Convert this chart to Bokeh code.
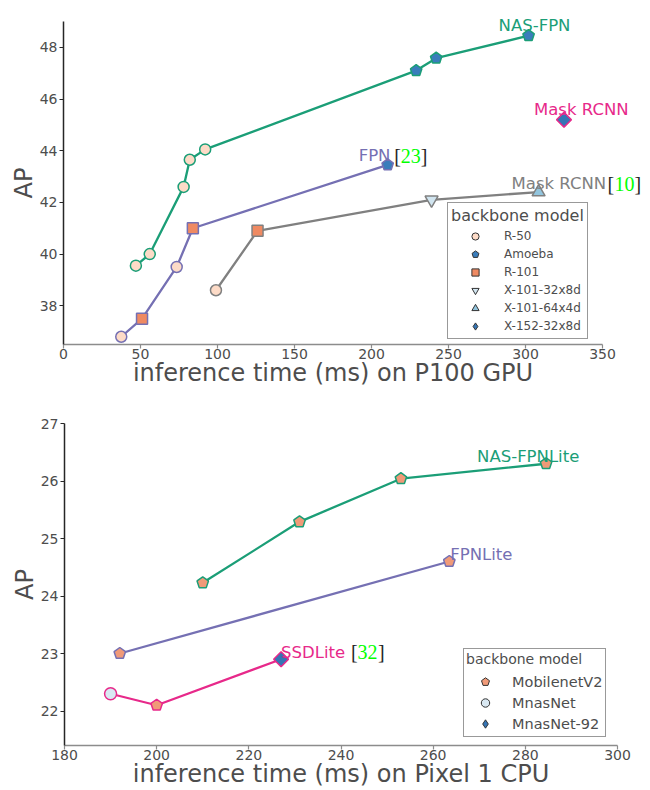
from bokeh.plotting import figure
from bokeh.models import Range1d, Legend, LegendItem, FixedTicker
from bokeh.core.properties import value
from bokeh.embed import file_html
from bokeh.resources import INLINE

# ---------------- data: top panel (P100 GPU) ----------------
top_xticks = [0, 50, 100, 150, 200, 250, 300, 350]
top_yticks = [38, 40, 42, 44, 46, 48]

nasfpn_t = [47, 56, 78, 82, 92, 229, 242, 302]
nasfpn_ap = [39.55, 40.0, 42.6, 43.65, 44.05, 47.1, 47.58, 48.45]
nasfpn_bb = ["R-50", "R-50", "R-50", "R-50", "R-50", "Amoeba", "Amoeba", "Amoeba"]

fpn_t = [37.5, 51, 73.5, 84, 210.5]
fpn_ap = [36.8, 37.5, 39.5, 41.0, 43.45]
fpn_bb = ["R-50", "R-101", "R-50", "R-101", "Amoeba"]

mrcnn10_t = [99, 126, 239, 308.5]
mrcnn10_ap = [38.6, 40.9, 42.1, 42.4]
mrcnn10_bb = ["R-50", "R-101", "X-101-32x8d", "X-101-64x4d"]

mrcnn_t = [325]
mrcnn_ap = [45.2]
mrcnn_bb = ["X-152-32x8d"]

top_backbones = ["R-50", "Amoeba", "R-101", "X-101-32x8d", "X-101-64x4d", "X-152-32x8d"]

# ---------------- data: bottom panel (Pixel 1 CPU) ----------------
bot_xticks = [180, 200, 220, 240, 260, 280, 300]
bot_yticks = [22, 23, 24, 25, 26, 27]

nasfpnlite_t = [210, 231, 253, 284.5]
nasfpnlite_ap = [24.23, 25.29, 26.04, 26.3]
nasfpnlite_bb = ["MobilenetV2", "MobilenetV2", "MobilenetV2", "MobilenetV2"]

fpnlite_t = [192, 263.5]
fpnlite_ap = [23.0, 24.6]
fpnlite_bb = ["MobilenetV2", "MobilenetV2"]

ssdlite_t = [190, 200, 227]
ssdlite_ap = [22.3, 22.1, 22.9]
ssdlite_bb = ["MnasNet", "MobilenetV2", "MnasNet-92"]

bot_backbones = ["MobilenetV2", "MnasNet", "MnasNet-92"]

# ---------------- styles ----------------
GREEN = "#1b9e77"
PURPLE = "#7570b3"
PINK = "#e7298a"
GRAY = "#808080"
TXT = "#4d4d4d"
SANS = "DejaVu Sans"
SERIF = "Liberation Serif"
NAN = float("nan")

STYLE = {
    "R-50": ("circle", "#fddbc7", 11),
    "Amoeba": ("pentagon", "#3a7dbb", 12),
    "R-101": ("square", "#ef8a62", 11),
    "X-101-32x8d": ("inverted_triangle", "#d1e5f0", 13),
    "X-101-64x4d": ("triangle", "#92c5de", 13),
    "X-152-32x8d": ("diamond", "#3575b5", 10.5),
    "MobilenetV2": ("pentagon", "#f09a78", 12),
    "MnasNet": ("circle", "#d9e8f2", 12),
    "MnasNet-92": ("diamond", "#3575b5", 10.5),
}


def mark(p, xs, ys, name, edge, lw=1.5, legend=False):
    marker, fill, size = STYLE[name]
    if marker == "pentagon":
        try:
            return p.ngon(x=xs, y=ys, radius=size / 2, radius_units="screen", n=5,
                          angle=0, fill_color=fill, line_color=edge, line_width=lw)
        except Exception:
            marker = "hex"
    angle = 0.0
    if marker == "diamond" and not legend:
        marker, angle = "square", 0.785398
    return p.scatter(x=xs, y=ys, marker=marker, size=size, angle=angle,
                     fill_color=fill, line_color=edge, line_width=lw)


def series(p, t, ap, bb, color):
    p.line(t, ap, line_color=color, line_width=2.3)
    seen = []
    for b in bb:
        if b not in seen:
            seen.append(b)
    for b in seen:
        xs = [x for x, k in zip(t, bb) if k == b]
        ys = [y for y, k in zip(ap, bb) if k == b]
        mark(p, xs, ys, b, color)


def label(p, x, y, txt, color, dx, dy, font=SANS, size="16.5px"):
    r = p.text(x=[x], y=[y], text=[txt], text_color=color, text_font=value(font),
               text_font_size=size, text_align="left", text_baseline="alphabetic",
               x_offset=dx, y_offset=dy)
    r.level = "overlay"
    return r


def style(p, xticks, yticks, xlabel):
    p.xgrid.visible = False
    p.ygrid.visible = False
    p.outline_line_color = None
    p.background_fill_color = "white"
    p.border_fill_color = "white"
    for ax in list(p.xaxis) + list(p.yaxis):
        ax.major_label_text_font = SANS
        ax.major_label_text_font_size = "14px"
        ax.major_label_text_color = TXT
        ax.axis_label_text_font = SANS
        ax.axis_label_text_font_size = "24px"
        ax.axis_label_text_font_style = "normal"
        ax.axis_label_text_color = TXT
        ax.minor_tick_line_color = None
        ax.major_tick_in = 0
        ax.major_tick_out = 4
        ax.axis_line_width = 1.5
        ax.major_tick_line_width = 1.2
    p.xaxis.axis_line_color = "#8c8c8c"
    p.xaxis.major_tick_line_color = "#8c8c8c"
    p.yaxis.axis_line_color = "#262626"
    p.yaxis.major_tick_line_color = "#262626"
    p.xaxis.ticker = FixedTicker(ticks=xticks)
    p.yaxis.ticker = FixedTicker(ticks=yticks)
    p.xaxis.major_label_standoff = 0
    p.yaxis.major_label_standoff = 2
    p.xaxis.axis_label_standoff = -3
    p.yaxis.axis_label_standoff = -1
    p.xaxis.axis_label = xlabel
    p.yaxis.axis_label = "AP"


def make_legend(p, names, loc, title_size, label_size, glyph_w, glyph_h,
                padding, standoff, title_standoff):
    items = []
    for n in names:
        r = mark(p, [NAN], [NAN], n, "#333333", lw=1.0, legend=True)
        items.append(LegendItem(label=n, renderers=[r]))
    lg = Legend(items=items, location=loc, title="backbone model",
                title_text_font=SANS, title_text_font_size=title_size,
                title_text_color=TXT, title_text_font_style="normal",
                label_text_font=SANS, label_text_font_size=label_size,
                label_text_color=TXT, glyph_width=glyph_w, glyph_height=glyph_h,
                label_height=glyph_h, spacing=0, padding=padding, margin=0,
                label_standoff=standoff, title_standoff=title_standoff,
                border_line_color="#333333", border_line_width=1.2,
                background_fill_color="white", background_fill_alpha=1.0)
    p.add_layout(lg)
    return lg


# ---------------- top figure ----------------
p1 = figure(width=650, height=391, output_backend="svg", toolbar_location=None,
            x_range=Range1d(0, 350), y_range=Range1d(36.5, 49.0),
            min_border_left=63, min_border_right=48, min_border_top=21,
            min_border_bottom=47)
style(p1, top_xticks, top_yticks, "inference time (ms) on P100 GPU")

series(p1, nasfpn_t, nasfpn_ap, nasfpn_bb, GREEN)
series(p1, fpn_t, fpn_ap, fpn_bb, PURPLE)
series(p1, mrcnn10_t, mrcnn10_ap, mrcnn10_bb, GRAY)
series(p1, mrcnn_t, mrcnn_ap, mrcnn_bb, PINK)

label(p1, nasfpn_t[-1], nasfpn_ap[-1], "NAS-FPN", GREEN, -30, -10)
label(p1, mrcnn_t[-1], mrcnn_ap[-1], "Mask RCNN", PINK, -30, -10.5)
label(p1, fpn_t[-1], fpn_ap[-1], "FPN", PURPLE, -29, -9)
label(p1, fpn_t[-1], fpn_ap[-1], "[", "#262626", 6.5, -9, SERIF, "20px")
label(p1, fpn_t[-1], fpn_ap[-1], "23", "#00ff00", 13.2, -9, SERIF, "20px")
label(p1, fpn_t[-1], fpn_ap[-1], "]", "#262626", 33.2, -9, SERIF, "20px")
label(p1, mrcnn10_t[-1], mrcnn10_ap[-1], "Mask RCNN", GRAY, -27, -8.5)
label(p1, mrcnn10_t[-1], mrcnn10_ap[-1], "[", "#262626", 69, -8.5, SERIF, "20px")
label(p1, mrcnn10_t[-1], mrcnn10_ap[-1], "10", "#00ff00", 76, -8.5, SERIF, "20px")
label(p1, mrcnn10_t[-1], mrcnn10_ap[-1], "]", "#262626", 96, -8.5, SERIF, "20px")

make_legend(p1, top_backbones, (384, 5), "16px", "12px", 48, 18, 3, 5, 2)

# ---------------- bottom figure ----------------
p2 = figure(width=650, height=399, output_backend="svg", toolbar_location=None,
            x_range=Range1d(180, 300), y_range=Range1d(21.4, 27.0),
            min_border_left=64, min_border_right=33, min_border_top=32,
            min_border_bottom=45)
style(p2, bot_xticks, bot_yticks, "inference time (ms) on Pixel 1 CPU")

series(p2, nasfpnlite_t, nasfpnlite_ap, nasfpnlite_bb, GREEN)
series(p2, fpnlite_t, fpnlite_ap, fpnlite_bb, PURPLE)
series(p2, ssdlite_t, ssdlite_ap, ssdlite_bb, PINK)

label(p2, nasfpnlite_t[-1], nasfpnlite_ap[-1], "NAS-FPNLite", GREEN, -69, -7)
label(p2, fpnlite_t[-1], fpnlite_ap[-1], "FPNLite", PURPLE, 1, -7)
label(p2, ssdlite_t[-1], ssdlite_ap[-1], "SSDLite", PINK, 0, -7)
label(p2, ssdlite_t[-1], ssdlite_ap[-1], "[", "#262626", 70, -7, SERIF, "20px")
label(p2, ssdlite_t[-1], ssdlite_ap[-1], "32", "#00ff00", 76.5, -7, SERIF, "20px")
label(p2, ssdlite_t[-1], ssdlite_ap[-1], "]", "#262626", 97, -7, SERIF, "20px")

make_legend(p2, bot_backbones, (399, 8), "14px", "14.5px", 38, 21, 2, 8, 4)

open("out.html", "w").write(file_html([p1, p2], INLINE))
